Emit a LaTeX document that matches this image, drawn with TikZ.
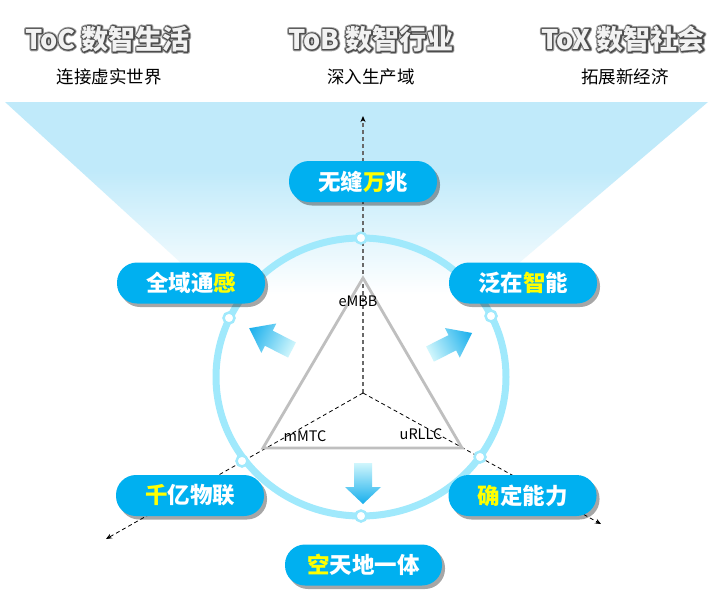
\documentclass[tikz,border=0pt]{standalone}
\usepackage{fontspec}
\setmainfont{Noto Sans CJK SC}
\usetikzlibrary{shadows,arrows.meta}
\definecolor{pillc}{RGB}{0,176,240}
\definecolor{ringc}{RGB}{160,233,252}
\definecolor{funnelc}{RGB}{192,234,250}
\definecolor{hlc}{RGB}{255,255,0}
\definecolor{arrowlight}{RGB}{208,246,252}
\definecolor{arrowdark}{RGB}{22,174,236}
\definecolor{tric}{RGB}{191,191,191}
\definecolor{headfill}{RGB}{242,242,242}
\definecolor{axgray}{RGB}{105,105,105}
\pgfdeclareverticalshading{funnel}{100bp}{color(0bp)=(white); color(44bp)=(white); color(64bp)=(funnelc); color(100bp)=(funnelc)}
% outlined heading text: soft wide stroke, dark stroke, then the fill, in one box
\newcommand\outlinedtext[1]{%
  \rlap{\special{pdf:literal direct q 1 Tr 4.2 w 1 j 0.66 0.66 0.66 RG}#1\special{pdf:literal direct 0 Tr Q}}%
  \rlap{\special{pdf:literal direct q 1 Tr 2.4 w 1 j 0.30 0.30 0.30 RG}#1\special{pdf:literal direct 0 Tr Q}}%
  {\color{headfill}#1}}
\begin{document}
\begin{tikzpicture}[x=1pt,y=-1pt,
  pill/.style={fill=pillc, rounded corners=20pt, minimum width=148pt, minimum height=41pt,
    text=white, font=\bfseries\fontsize{22.5}{24}\selectfont, inner sep=0pt,
    drop shadow={shadow xshift=3pt, shadow yshift=-3.5pt, opacity=0.35, fill=black}},
  headst/.style={font=\bfseries\fontsize{27}{29}\selectfont, inner sep=0pt},
  subst/.style={font=\fontsize{17.5}{19}\selectfont, text=black, inner sep=0pt},
  lblst/.style={font=\fontsize{14.5}{16}\selectfont, text=black, inner sep=0pt},
  dotst/.style={circle, fill=white, draw=ringc, line width=2.5pt, minimum size=11pt, inner sep=0pt},
  axv/.style={draw=axgray, line width=1.5pt, dash pattern=on 4pt off 3pt, -{Stealth[black,length=6pt,width=5pt]}},
  axd/.style={draw=black, line width=0.8pt, dash pattern=on 4pt off 3pt, -{Stealth[length=6pt,width=5pt]}},
  blockarrow/.style={left color=arrowlight, right color=arrowdark}
]
\useasboundingbox (0,0) rectangle (721,611);
\fill[white] (0,0) rectangle (721,611);

% funnel
\shade[shading=funnel] (5,102) -- (708,102) -- (344,412) -- cycle;

% ring
\draw[ringc, line width=7pt] (361,377) ellipse [x radius=145, y radius=139];

% axes
\coordinate (O) at (363,393);
\coordinate (Atop) at (363,116);
\coordinate (Aleft) at (106,539);
\coordinate (Aright) at (601,524);
\draw[axv] (O) -- (Atop);
\draw[axd] (O) -- (Aleft);
\draw[axd] (O) -- (Aright);

% triangle
\coordinate (T1) at (363,278);
\coordinate (T2) at (263,448);
\coordinate (T3) at (462,448);
\draw[tric, line width=2.8pt, line join=miter] (T1) -- (T2) -- (T3) -- cycle;

\node[lblst] (l1) at (358,301) {eMBB};
\node[lblst] (l2) at (305,436) {mMTC};
\node[lblst] (l3) at (421,434) {uRLLC};

% dots on ring
\node[dotst] (d1) at (361,238) {};
\node[dotst] (d2) at (229,318) {};
\node[dotst] (d3) at (491,316) {};
\node[dotst] (d4) at (242,461) {};
\node[dotst] (d5) at (480,457) {};
\node[dotst] (d6) at (361,516) {};

% block arrows
\begin{scope}[transform canvas={shift={(292,350)}, rotate=153}]
  \shade[blockarrow] (0,-8.5) -- (26,-8.5) -- (26,-16.5) -- (48,0) -- (26,16.5) -- (26,8.5) -- (0,8.5) -- cycle;
\end{scope}
\begin{scope}[transform canvas={shift={(430,354)}, rotate=26.6}]
  \shade[blockarrow] (0,-8.5) -- (25,-8.5) -- (25,-16.5) -- (47,0) -- (25,16.5) -- (25,8.5) -- (0,8.5) -- cycle;
\end{scope}
\shade[top color=arrowlight, bottom color=arrowdark] (354,463) -- (372,463) -- (372,487) -- (381,487) -- (363,504) -- (345,487) -- (354,487) -- cycle;

% pills
\node[pill] (p1) at (363,181.5) {无缝\textcolor{hlc}{万}兆};
\node[pill] (p2) at (191,283) {全域通\textcolor{hlc}{感}};
\node[pill] (p3) at (523,283) {泛在\textcolor{hlc}{智}能};
\node[pill] (p4) at (190,495.5) {\textcolor{hlc}{千}亿物联};
\node[pill] (p5) at (522.5,495.5) {\textcolor{hlc}{确}定能力};
\node[pill, minimum width=157pt] (p6) at (363.5,565) {\textcolor{hlc}{空}天地一体};

% headings
\node[headst] (h1) at (107.5,39) {\outlinedtext{ToC 数智生活}};
\node[headst] (h2) at (371,39) {\outlinedtext{ToB 数智行业}};
\node[headst] (h3) at (623,39) {\outlinedtext{ToX 数智社会}};
\node[subst] (s1) at (109,77) {连接虚实世界};
\node[subst] (s2) at (371,77) {深入生产域};
\node[subst] (s3) at (625,77) {拓展新经济};
\end{tikzpicture}
\end{document}
